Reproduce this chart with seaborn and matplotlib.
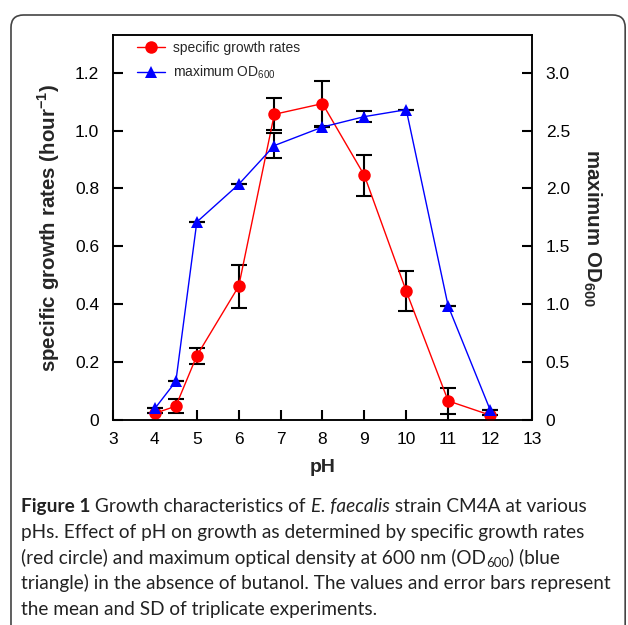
import numpy as np
import pandas as pd
import seaborn as sns
import matplotlib.pyplot as plt
from matplotlib.patches import FancyBboxPatch

# pH values
ph = [4, 4.5, 5, 6, 6.85, 8, 9, 10, 11, 12]
# specific growth rates (hour-1) and SD
growth_rate = [0.023, 0.048, 0.222, 0.462, 1.056, 1.093, 0.845, 0.445, 0.066, 0.017]
growth_sd = [0.0, 0.025, 0.028, 0.075, 0.055, 0.078, 0.072, 0.070, 0.045, 0.0]
# maximum OD600 and SD
max_od = [0.10, 0.334, 1.71, 2.035, 2.37, 2.53, 2.62, 2.68, 0.985, 0.09]
od_sd = [0.0, 0.0, 0.0, 0.0, 0.107, 0.0, 0.045, 0.0, 0.0, 0.0]

left_ticks = [0, 0.2, 0.4, 0.6, 0.8, 1.0, 1.2]
left_labels = ['0', '0.2', '0.4', '0.6', '0.8', '1.0', '1.2']
right_ticks = [0, 0.5, 1.0, 1.5, 2.0, 2.5, 3.0]
right_labels = ['0', '0.5', '1.0', '1.5', '2.0', '2.5', '3.0']
x_ticks = list(range(3, 14))

df = pd.DataFrame({'pH': ph, 'rate': growth_rate, 'rate_sd': growth_sd,
                   'od': max_od, 'od_sd': od_sd})

sns.set_style('white')
plt.rcParams['font.family'] = ['Liberation Sans', 'DejaVu Sans']
plt.rcParams['mathtext.fontset'] = 'custom'
plt.rcParams['mathtext.rm'] = 'Liberation Sans'
plt.rcParams['mathtext.bf'] = 'Liberation Sans:bold'

fig = plt.figure(figsize=(6.28, 6.25), dpi=100)
ax = fig.add_axes([0.180, 0.328, 0.667, 0.616])
ax2 = ax.twinx()

# error bars under the markers
ax.errorbar(df['pH'], df['rate'], yerr=df['rate_sd'], fmt='none', ecolor='black',
            elinewidth=1.5, capsize=6, capthick=1.5, zorder=1)
sns.lineplot(data=df, x='pH', y='rate', ax=ax, color='#ff0000', marker='o',
             markersize=9, markeredgewidth=0, linewidth=1.0, zorder=3,
             label='specific growth rates', legend=False)

ax2.errorbar(df['pH'], df['od'], yerr=df['od_sd'], fmt='none', ecolor='black',
             elinewidth=1.5, capsize=6, capthick=1.5, zorder=1)
sns.lineplot(data=df, x='pH', y='od', ax=ax2, color='#0000ff', marker='^',
             markersize=8, markeredgewidth=0, linewidth=1.0, zorder=3,
             label='maximum OD$_{600}$', legend=False)

ax.set_xlim(3, 13)
ax.set_ylim(0, 1.33)
ax2.set_ylim(0, 1.33 * 2.5)
ax.set_xticks(x_ticks)
ax.set_xticklabels([str(t) for t in x_ticks])
ax.set_yticks(left_ticks)
ax.set_yticklabels(left_labels)
ax2.set_yticks(right_ticks)
ax2.set_yticklabels(right_labels)

ax.tick_params(axis='both', direction='in', length=7, width=1.5, labelsize=12.5,
               colors='black', pad=10, top=False, right=False, left=True, bottom=True)
ax.tick_params(axis='x', pad=9)
ax2.tick_params(axis='y', direction='in', length=7, width=1.5, labelsize=12.5,
                colors='black', pad=10, right=True)

for a in (ax, ax2):
    for s in a.spines.values():
        s.set_color('black')
        s.set_linewidth(1.1)

ax.set_xlabel('pH', fontsize=14, fontweight='bold', labelpad=8)
ax.set_ylabel(r'specific growth rates (hour$^\mathbf{-1}$)', fontsize=14.8,
              fontweight='bold', labelpad=9)
ax2.set_ylabel(r'maximum OD$_\mathbf{600}$', fontsize=14.8, fontweight='bold',
               rotation=-90, labelpad=24)

h1, l1 = ax.get_legend_handles_labels()
h2, l2 = ax2.get_legend_handles_labels()
ax2.legend(h1 + h2, l1 + l2, loc='upper left', bbox_to_anchor=(0.057, 0.985),
           frameon=False, fontsize=10, handlelength=2.0, handletextpad=0.6,
           labelspacing=0.65, borderaxespad=0, borderpad=0)

# figure frame
frame = FancyBboxPatch((0.0175, -0.05), 0.978, 1.026, transform=fig.transFigure,
                       boxstyle='round,pad=0,rounding_size=0.02', facecolor='none',
                       edgecolor='#444444', linewidth=1.2, clip_on=False)
fig.patches.append(frame)

# caption
renderer = fig.canvas.get_renderer()
cap_font = 'Lato'
cap_size = 13.7


def put_runs(x, y, runs):
    for txt, kw in runs:
        style = dict(fontsize=cap_size, family=cap_font, color='#222222', va='baseline')
        style.update(kw)
        dy = style.pop('dy', 0)
        t = fig.text(x, y + dy, txt, **style)
        x += t.get_window_extent(renderer=renderer).width / fig.bbox.width


lines = [
    [('Figure 1', dict(fontweight='bold')), (' Growth characteristics of ', {}),
     ('E. faecalis', dict(style='italic')), (' strain CM4A at various', {})],
    [('pHs. Effect of pH on growth as determined by specific growth rates', {})],
    [('(red circle) and maximum optical density at 600 nm (OD', {}),
     ('600', dict(fontsize=cap_size * 0.7, dy=-0.006)), (') (blue', {})],
    [('triangle) in the absence of butanol. The values and error bars represent', {})],
    [('the mean and SD of triplicate experiments.', {})],
]
base_y = 1 - 512 / 625
for i, runs in enumerate(lines):
    put_runs(21 / 628, base_y - i * 25.8 / 625, runs)

fig.savefig('out.png', dpi=100)
